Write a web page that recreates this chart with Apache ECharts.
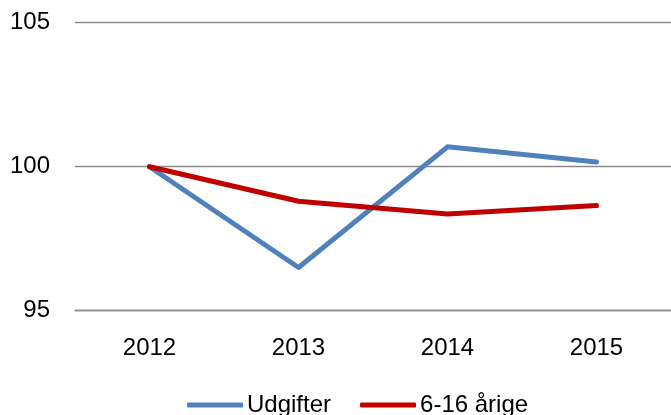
<!DOCTYPE html>
<html><head><meta charset="utf-8">
<script src="https://cdn.jsdelivr.net/npm/echarts@6/dist/echarts.min.js"></script>
<style>html,body{margin:0;padding:0;background:#fff}#c{width:671px;height:415px}</style>
</head><body><div id="c"></div>
<script>
const categories = ['2012', '2013', '2014', '2015'];
const udgifter = [100, 96.5, 100.69, 100.16];
const aarige = [100, 98.8, 98.36, 98.65];
const yTicks = [95, 100, 105];

const font = 'Liberation Sans';
const chart = echarts.init(document.getElementById('c'), null, {renderer: 'canvas'});
chart.setOption({
  animation: false,
  backgroundColor: '#ffffff',
  grid: {left: 75, right: 0, top: 22.7, bottom: 104.3, containLabel: false},
  xAxis: {
    type: 'category', data: categories, boundaryGap: true,
    axisLine: {show: true, lineStyle: {color: '#8a8a8a', width: 1.3}},
    axisTick: {show: false},
    axisLabel: {color: '#000', fontFamily: font, fontSize: 24, margin: 26}
  },
  yAxis: {
    type: 'value', min: yTicks[0], max: yTicks[yTicks.length - 1], interval: 5,
    axisLine: {show: false}, axisTick: {show: false},
    splitLine: {lineStyle: {color: '#8a8a8a', width: 1.3}},
    axisLabel: {color: '#000', fontFamily: font, fontSize: 24, margin: 25}
  },
  legend: {
    left: 182, top: 388, itemWidth: 56, itemHeight: 5, itemGap: 29,
    icon: 'roundRect',
    textStyle: {color: '#000', fontFamily: font, fontSize: 24, padding: [0, 0, 0, -1]},
    data: ['Udgifter', '6-16 årige']
  },
  series: [
    {name: 'Udgifter', type: 'line', data: udgifter, symbol: 'none',
     itemStyle: {color: '#4F81BD'}, lineStyle: {color: '#4F81BD', width: 5, cap: 'round', join: 'round'}},
    {name: '6-16 årige', type: 'line', data: aarige, symbol: 'none',
     itemStyle: {color: '#C00000'}, lineStyle: {color: '#C00000', width: 5, cap: 'round', join: 'round'}}
  ]
});
</script></body></html>
